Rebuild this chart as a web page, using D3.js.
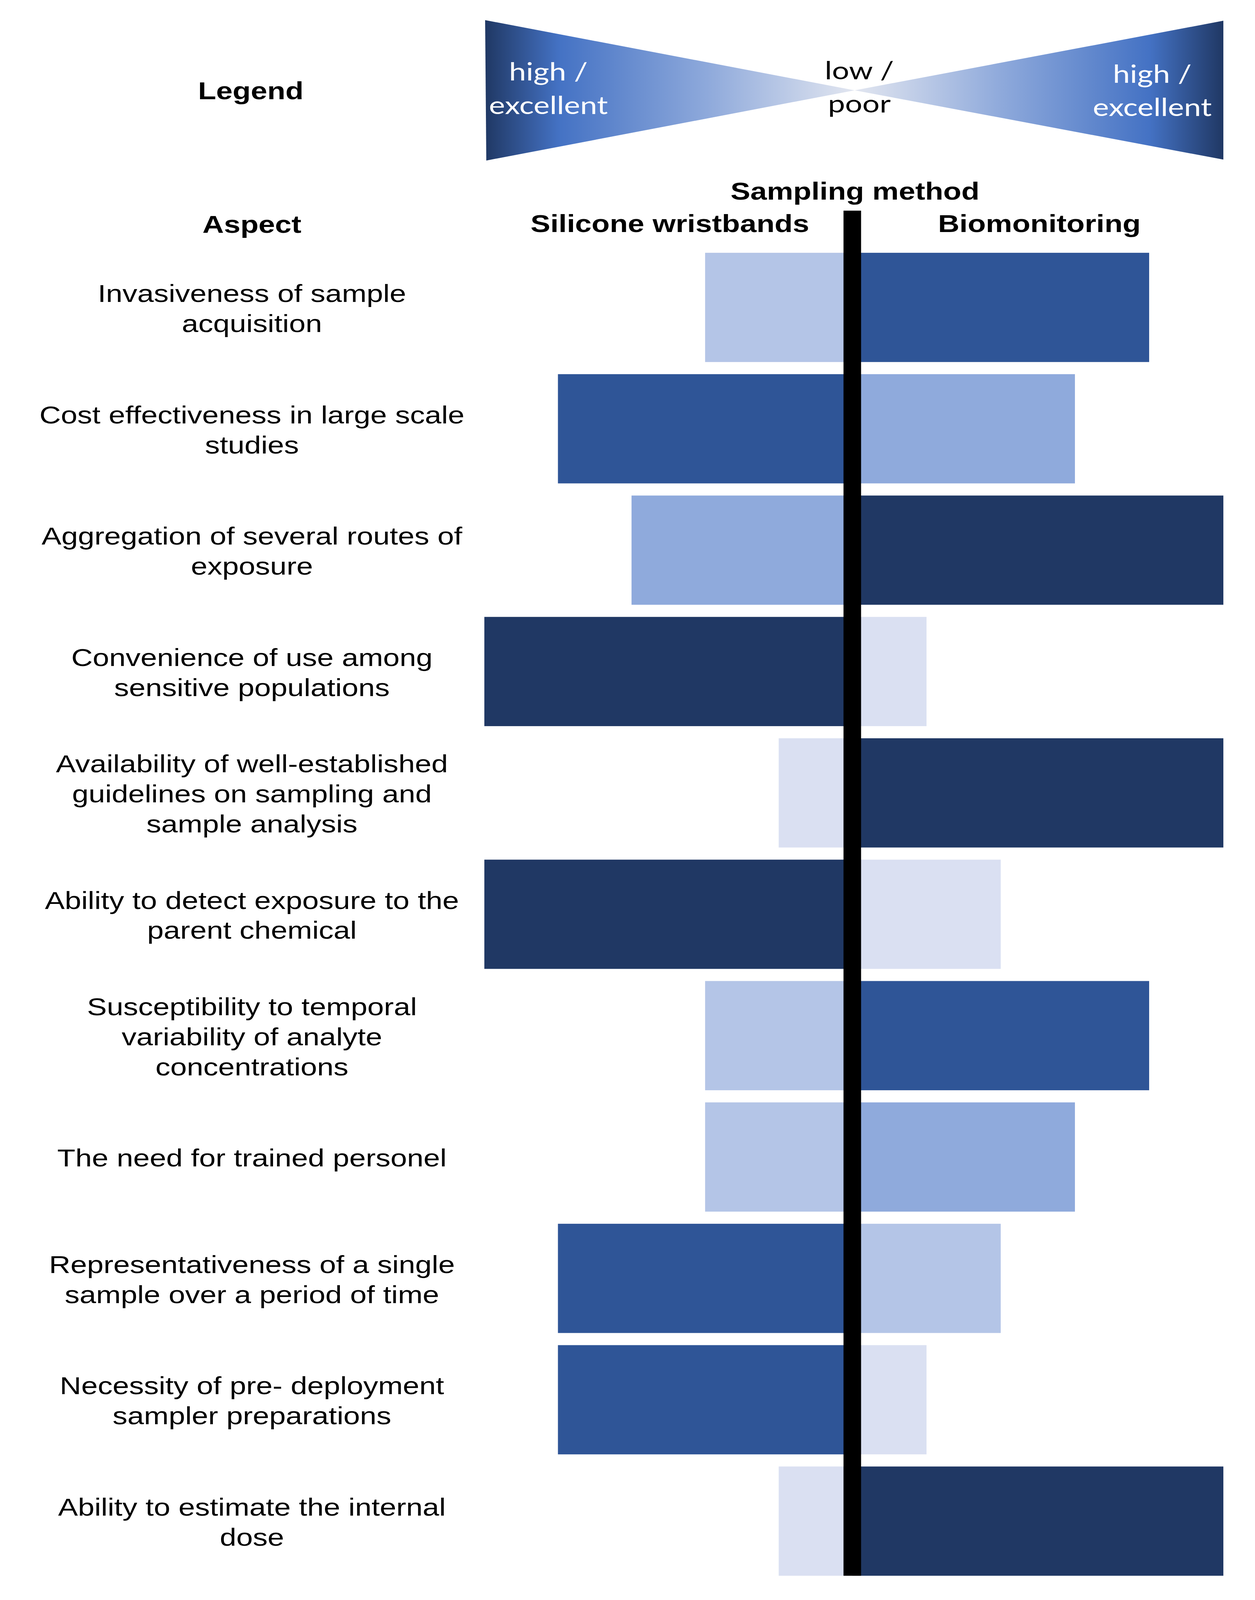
<!DOCTYPE html>
<html lang="en">
<head>
    <meta charset="UTF-8">
    <title>Silicone wristbands vs biomonitoring</title>
    <script src="https://d3js.org/d3.v7.min.js"></script>
    <style>
        html, body { margin: 0; padding: 0; background: #fff; overflow: hidden; }
        svg { display: block; }
        .label { font-family: "Liberation Sans", Arial, sans-serif; fill: #000; }
        .header { font-family: "Liberation Sans", Arial, sans-serif; font-weight: bold; fill: #000; }
        .legend-text { font-family: Lato, "Open Sans", sans-serif; }
    </style>
</head>
<body>
    <svg></svg>
    <script>
        // Aspects (one entry per row, already split into lines)
        const aspects = [
            ["Invasiveness of sample", "acquisition"],
            ["Cost effectiveness in large scale", "studies"],
            ["Aggregation of several routes of", "exposure"],
            ["Convenience of use among", "sensitive populations"],
            ["Availability of well-established", "guidelines on sampling and", "sample analysis"],
            ["Ability to detect exposure to the", "parent chemical"],
            ["Susceptibility to temporal", "variability of analyte", "concentrations"],
            ["The need for trained personel"],
            ["Representativeness of a single", "sample over a period of time"],
            ["Necessity of pre- deployment", "sampler preparations"],
            ["Ability to estimate the internal", "dose"]
        ];

        // Score 1 (low / poor) .. 5 (high / excellent)
        const wristbandScore = [2, 4, 3, 5, 1, 5, 2, 2, 4, 4, 1];
        const biomonitoringScore = [4, 3, 5, 1, 5, 2, 4, 3, 2, 1, 5];

        // Shade used for each bar (mostly the same as the score)
        const wristbandShade = [2, 4, 3, 5, 1, 5, 2, 2, 4, 4, 1];
        const biomonitoringShade = [4, 3, 5, 1, 5, 1, 4, 3, 2, 1, 5];

        const shades = ["#DAE0F2", "#B4C5E7", "#8FAADC", "#2F5597", "#203864"];

        const methods = ["Silicone wristbands", "Biomonitoring"];

        // Drawing is done in a 3213 x 5013 space and fitted to the window
        const W = 3213, H = 5013;
        const svg = d3.select("svg")
            .attr("width", window.innerWidth || W)
            .attr("height", window.innerHeight || H)
            .attr("viewBox", `0 0 ${W} ${H}`)
            .attr("preserveAspectRatio", "none");

        // Layout
        const centerX = 2182;
        const lineWidth = 45;
        const rowsTop = 773, rowsBottom = 4956;
        const labelX = 645;
        const fontSize = 76;
        const lineHeight = 94;

        // Scales
        const yScale = d3.scaleBand()
            .domain(d3.range(aspects.length))
            .range([rowsTop, rowsBottom])
            .paddingInner(0.1)
            .paddingOuter(0.05);

        const xLeft = d3.scaleLinear().domain([0, 5]).range([centerX, 1240]);
        const xRight = d3.scaleLinear().domain([0, 5]).range([centerX, 3132]);

        const color = d3.scaleOrdinal().domain([1, 2, 3, 4, 5]).range(shades);

        // ---- Legend bow-tie ----
        const defs = svg.append("defs");
        function addGradient(id, x1, x2) {
            const g = defs.append("linearGradient")
                .attr("id", id)
                .attr("gradientUnits", "userSpaceOnUse")
                .attr("x1", x1).attr("x2", x2)
                .attr("y1", 0).attr("y2", 0);
            g.append("stop").attr("offset", 0).attr("stop-color", "#203864");
            g.append("stop").attr("offset", 0.2).attr("stop-color", "#4472C4");
            g.append("stop").attr("offset", 0.6).attr("stop-color", "#8EA9DB");
            g.append("stop").attr("offset", 1).attr("stop-color", "#E2E6F0");
        }
        addGradient("gradLeft", 1242, 2188);
        addGradient("gradRight", 3132, 2188);

        svg.append("path")
            .attr("d", "M1242,63 L2188,283 L1245,503 Z")
            .attr("fill", "url(#gradLeft)");
        svg.append("path")
            .attr("d", "M3132,65 L2188,283 L3132,500 Z")
            .attr("fill", "url(#gradRight)");

        const legendText = [
            { x: 1404, lines: ["high /", "excellent"], y: [252, 357], fill: "#fff" },
            { x: 2200, lines: ["low /", "poor"], y: [249, 352], fill: "#000" },
            { x: 2950, lines: ["high /", "excellent"], y: [260, 363], fill: "#fff" }
        ];
        legendText.forEach(t => {
            t.lines.forEach((line, i) => {
                svg.append("text")
                    .attr("class", "legend-text")
                    .attr("x", t.x)
                    .attr("y", t.y[i])
                    .attr("text-anchor", "middle")
                    .attr("font-size", 78)
                    .attr("fill", t.fill)
                    .text(line);
            });
        });

        // ---- Headers ----
        const headers = [
            { text: "Legend", x: 642, y: 311 },
            { text: "Aspect", x: labelX, y: 729 },
            { text: "Sampling method", x: 2189, y: 625 },
            { text: methods[0], x: 1715, y: 727 },
            { text: methods[1], x: 2661, y: 727 }
        ];
        svg.selectAll(".header")
            .data(headers)
            .enter().append("text")
            .attr("class", "header")
            .attr("x", d => d.x)
            .attr("y", d => d.y)
            .attr("text-anchor", "middle")
            .attr("font-size", fontSize)
            .text(d => d.text);

        // ---- Bars ----
        const rows = aspects.map((a, i) => ({
            i,
            left: wristbandScore[i],
            right: biomonitoringScore[i],
            leftShade: wristbandShade[i],
            rightShade: biomonitoringShade[i]
        }));

        svg.selectAll(".bar-left")
            .data(rows)
            .enter().append("rect")
            .attr("class", "bar-left")
            .attr("x", d => xLeft(d.left))
            .attr("y", d => yScale(d.i))
            .attr("width", d => xLeft(0) - xLeft(d.left))
            .attr("height", yScale.bandwidth())
            .attr("fill", d => color(d.leftShade));

        svg.selectAll(".bar-right")
            .data(rows)
            .enter().append("rect")
            .attr("class", "bar-right")
            .attr("x", xRight(0))
            .attr("y", d => yScale(d.i))
            .attr("width", d => xRight(d.right) - xRight(0))
            .attr("height", yScale.bandwidth())
            .attr("fill", d => color(d.rightShade));

        // Central divider
        svg.append("rect")
            .attr("x", centerX - lineWidth / 2)
            .attr("y", 660)
            .attr("width", lineWidth)
            .attr("height", yScale(aspects.length - 1) + yScale.bandwidth() - 660)
            .attr("fill", "#000");

        // ---- Aspect labels ----
        const labels = svg.selectAll(".label")
            .data(rows)
            .enter().append("text")
            .attr("class", "label")
            .attr("text-anchor", "middle")
            .attr("font-size", fontSize);

        labels.each(function(d) {
            const lines = aspects[d.i];
            const cy = yScale(d.i) + yScale.bandwidth() / 2;
            const sel = d3.select(this);
            lines.forEach((line, k) => {
                sel.append("tspan")
                    .attr("x", labelX)
                    .attr("y", cy + (k - (lines.length - 1) / 2) * lineHeight + 30)
                    .text(line);
            });
        });
    </script>
</body>
</html>
